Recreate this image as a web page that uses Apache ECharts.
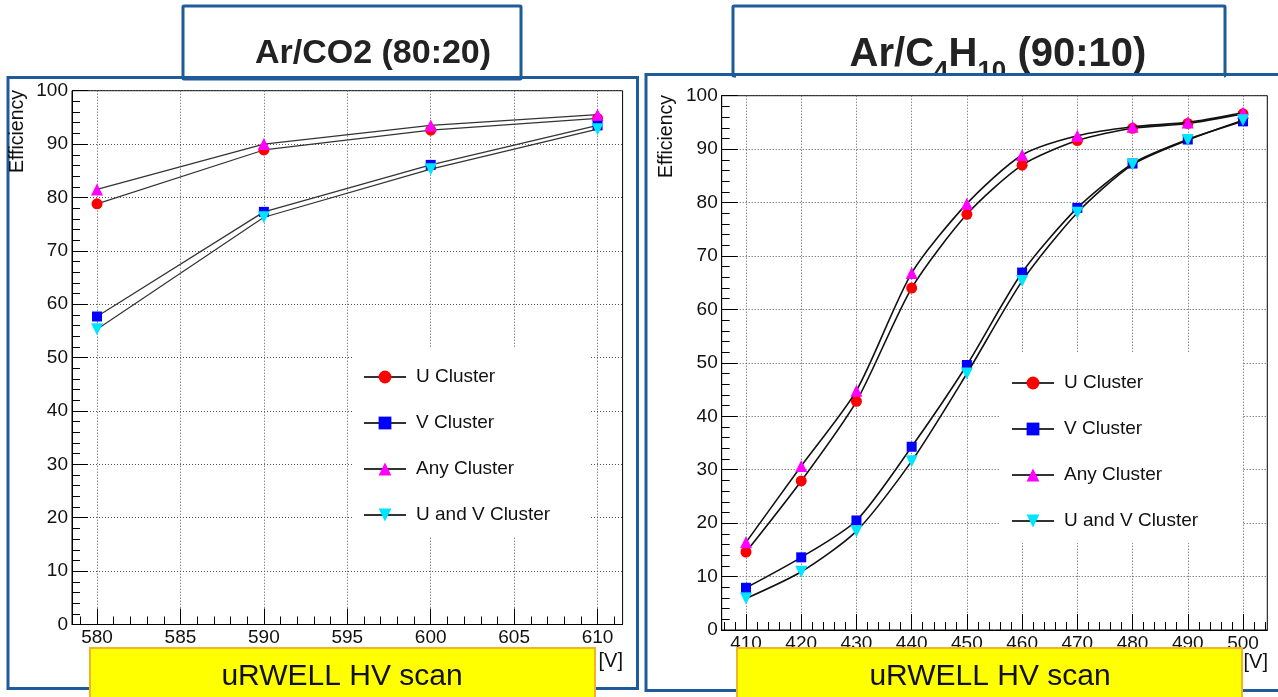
<!DOCTYPE html>
<html>
<head>
<meta charset="utf-8">
<script src="https://cdn.jsdelivr.net/npm/echarts@6/dist/echarts.min.js"></script>
<style>
html,body{margin:0;padding:0;background:#fff;}
#chart{width:1278px;height:697px;}
</style>
</head>
<body>
<div id="chart"></div>
<script>
// ---------- data ----------
const seriesNames = ['U Cluster', 'V Cluster', 'Any Cluster', 'U and V Cluster'];

// Ar/CO2 (80:20)
const hvCO2 = [580, 590, 600, 610];
const uCO2 = [78.8, 88.9, 92.6, 94.8];
const vCO2 = [57.7, 77.3, 86.1, 93.5];
const anyCO2 = [81.5, 90.0, 93.5, 95.5];
const uvCO2 = [55.3, 76.3, 85.3, 92.8];

// Ar/C4H10 (90:10)
const hvIso = [410, 420, 430, 440, 450, 460, 470, 480, 490, 500];
const uIso = [14.6, 27.9, 42.8, 64.0, 77.8, 87.0, 91.6, 93.9, 94.8, 96.6];
const vIso = [7.9, 13.6, 20.5, 34.3, 49.6, 66.9, 79.0, 87.3, 91.8, 95.2];
const anyIso = [16.4, 30.7, 44.8, 66.8, 79.8, 88.9, 92.5, 94.2, 95.0, 96.8];
const uvIso = [5.9, 10.9, 18.5, 31.6, 48.0, 65.3, 78.1, 87.1, 91.7, 95.4];

// tick labels
const co2Ticks = [580, 585, 590, 595, 600, 605, 610];
const isoTicks = [410, 420, 430, 440, 450, 460, 470, 480, 490, 500];
const co2Minor = [579, 581, 582, 583, 584, 586, 587, 588, 589, 591, 592, 593, 594, 596, 597, 598, 599, 601, 602, 603, 604, 606, 607, 608, 609, 611];
const isoMinor = [406, 408, 412, 414, 416, 418, 422, 424, 426, 428, 432, 434, 436, 438, 442, 444, 446, 448, 452, 454, 456, 458, 462, 464, 466, 468, 472, 474, 476, 478, 482, 484, 486, 488, 492, 494, 496, 498, 502, 504];

// ---------- style ----------
const FONT = '"Liberation Sans", Arial, Helvetica, sans-serif';
const PANEL = '#1f5a9a';
const markerColors = ['#ff0000', '#0000ff', '#ff00ff', '#00e5ff'];
const markerSymbols = ['circle', 'rect', 'triangle', 'triangle'];
const markerRotate = [0, 0, 0, 180];
const markerSizes = [11, 10, 12, 12];

const chart = echarts.init(document.getElementById('chart'), null, {renderer: 'canvas'});

function pairs(xs, ys) { return xs.map((x, i) => [x, ys[i]]); }

function makeSeries(xIdx, yIdx, xs, ysList, smooth, lineColor, lineWidth) {
  return ysList.map((ys, k) => ({
    type: 'line',
    name: seriesNames[k],
    xAxisIndex: xIdx,
    yAxisIndex: yIdx,
    data: pairs(xs, ys),
    smooth: smooth,
    symbol: markerSymbols[k],
    symbolRotate: markerRotate[k],
    symbolSize: markerSizes[k],
    showAllSymbol: true,
    lineStyle: {color: lineColor, width: lineWidth},
    itemStyle: {color: markerColors[k], borderWidth: 0},
    z: 3 + k,
    animation: false
  }));
}

function mainX(grid, min, max, ticks) {
  return {
    type: 'value', gridIndex: grid, min: min, max: max, position: 'bottom',
    axisLine: {show: true, onZero: false, lineStyle: {color: '#000', width: 1}},
    axisTick: {show: true, inside: true, length: 16, customValues: ticks, lineStyle: {color: '#000', width: 1}},
    axisLabel: {show: true, customValues: ticks, margin: 4, fontSize: 19, fontFamily: FONT, color: '#111'},
    splitLine: {show: true, lineStyle: {color: '#555', type: [1, 2], width: 1}},
    minorTick: {show: false}
  };
}
function minorX(grid, min, max, ticks) {
  return {
    type: 'value', gridIndex: grid, min: min, max: max, position: 'bottom',
    axisLine: {show: false, onZero: false},
    axisTick: {show: true, inside: true, length: 8, customValues: ticks, lineStyle: {color: '#000', width: 1}},
    axisLabel: {show: false},
    splitLine: {show: false}
  };
}
function yAx(grid) {
  return {
    type: 'value', gridIndex: grid, min: 0, max: 100, interval: 10,
    axisLine: {show: true, onZero: false, lineStyle: {color: '#000', width: 1}},
    axisTick: {show: true, inside: true, length: 16, lineStyle: {color: '#000', width: 1}},
    minorTick: {show: true, splitNumber: 5, length: 8, lineStyle: {color: '#000', width: 1}},
    axisLabel: {margin: 4, fontSize: 19, fontFamily: FONT, color: '#111'},
    splitLine: {show: true, lineStyle: {color: '#555', type: [1, 2], width: 1}}
  };
}
function legendAt(left, top, padRight) {
  return {
    show: true, orient: 'vertical', left: left, top: top,
    data: seriesNames, selectedMode: false,
    backgroundColor: '#fff',
    padding: [19, padRight, 11, 11],
    itemGap: 24, itemWidth: 42, itemHeight: 16,
    textStyle: {fontSize: 19, fontFamily: FONT, color: '#111', lineHeight: 22, padding: [0, 0, 0, 5]}
  };
}

// ---- right title pieces measured at runtime ----
const ctx = document.createElement('canvas').getContext('2d');
function tw(text, size) { ctx.font = 'bold ' + size + 'px ' + FONT; return ctx.measureText(text).width; }
const tBig = 40, tSub = 26;
const titlePieces = [['Ar/C', tBig], ['4', tSub], ['H', tBig], ['10', tSub], [' (90:10)', tBig]];
const totalW = titlePieces.reduce((s, p) => s + tw(p[0], p[1]), 0);
let cx = 998 - totalW / 2;
const rightTitleEls = titlePieces.map(p => {
  const el = {
    type: 'text', x: cx, y: p[1] === tBig ? 75 : 85, z: 12,
    style: {text: p[0], font: 'bold ' + p[1] + 'px ' + FONT, fill: '#222', textAlign: 'left', textVerticalAlign: 'bottom', align: 'left', verticalAlign: 'bottom'}
  };
  cx += tw(p[0], p[1]);
  return el;
});

const graphics = [
  // title boxes
  {type: 'rect', shape: {x: 183, y: 6, width: 338, height: 73, r: 1}, style: {fill: '#fff', stroke: PANEL, lineWidth: 3}, z: 10},
  {type: 'rect', shape: {x: 733, y: 6, width: 492, height: 70, r: 1}, style: {fill: '#fff', stroke: PANEL, lineWidth: 3}, z: 10},
  {type: 'text', x: 373, y: 71, z: 12, style: {text: 'Ar/CO2 (80:20)', font: 'bold 34px ' + FONT, fill: '#222', align: 'center', verticalAlign: 'bottom', textAlign: 'center', textVerticalAlign: 'bottom'}},
  ...rightTitleEls,
  // white mask below right panel top edge (clips title text)
  {type: 'rect', shape: {x: 736, y: 75.5, width: 488, height: 18}, style: {fill: '#fff'}, z: 13},
  // panels
  {type: 'rect', shape: {x: 8, y: 77.5, width: 629.5, height: 611}, style: {fill: null, stroke: PANEL, lineWidth: 3}, z: 14},
  {type: 'rect', shape: {x: 646, y: 74.5, width: 640, height: 616}, style: {fill: null, stroke: PANEL, lineWidth: 3}, z: 14},
  // y-axis titles
  {type: 'text', x: 18, y: 90, rotation: Math.PI / 2, z: 15, style: {text: 'Efficiency', font: '19.5px ' + FONT, fill: '#111', align: 'right', verticalAlign: 'middle', textAlign: 'right', textVerticalAlign: 'middle'}},
  {type: 'text', x: 667, y: 95, rotation: Math.PI / 2, z: 15, style: {text: 'Efficiency', font: '19.5px ' + FONT, fill: '#111', align: 'right', verticalAlign: 'middle', textAlign: 'right', textVerticalAlign: 'middle'}},
  // [V] units
  {type: 'text', x: 623, y: 661, z: 15, style: {text: '[V]', font: '20px ' + FONT, fill: '#111', align: 'right', verticalAlign: 'middle', textAlign: 'right', textVerticalAlign: 'middle'}},
  {type: 'text', x: 1268, y: 662, z: 15, style: {text: '[V]', font: '20px ' + FONT, fill: '#111', align: 'right', verticalAlign: 'middle', textAlign: 'right', textVerticalAlign: 'middle'}},
  // yellow boxes
  {type: 'rect', shape: {x: 90, y: 648, width: 505, height: 60}, style: {fill: '#ffff00', stroke: '#f0b429', lineWidth: 2}, z: 16},
  {type: 'rect', shape: {x: 737, y: 648, width: 505, height: 60}, style: {fill: '#ffff00', stroke: '#f0b429', lineWidth: 2}, z: 16},
  {type: 'text', x: 342, y: 677, z: 17, style: {text: 'uRWELL HV scan', font: '30px ' + FONT, fill: '#111', align: 'center', verticalAlign: 'middle', textAlign: 'center', textVerticalAlign: 'middle'}},
  {type: 'text', x: 990, y: 677, z: 17, style: {text: 'uRWELL HV scan', font: '30px ' + FONT, fill: '#111', align: 'center', verticalAlign: 'middle', textAlign: 'center', textVerticalAlign: 'middle'}}
];

const option = {
  animation: false,
  backgroundColor: '#fff',
  grid: [
    {left: 72, top: 90.7, width: 550.6, height: 533.8, show: true, borderColor: '#000', borderWidth: 1, backgroundColor: 'transparent', containLabel: false},
    {left: 721.7, top: 95.7, width: 545.6, height: 534.3, show: true, borderColor: '#000', borderWidth: 1, backgroundColor: 'transparent', containLabel: false}
  ],
  xAxis: [
    mainX(0, 578.5, 611.5, co2Ticks),
    minorX(0, 578.5, 611.5, co2Minor),
    mainX(1, 405.6, 504.4, isoTicks),
    minorX(1, 405.6, 504.4, isoMinor)
  ],
  yAxis: [yAx(0), yAx(1)],
  legend: [legendAt(352, 347, 40), legendAt(1000, 353, 44)],
  series: [
    ...makeSeries(0, 0, hvCO2, [uCO2, vCO2, anyCO2, uvCO2], false, '#333', 1.2),
    ...makeSeries(2, 1, hvIso, [uIso, vIso, anyIso, uvIso], 0.25, '#111', 1.6)
  ],
  graphic: {elements: graphics}
};
chart.setOption(option);
</script>
</body>
</html>
